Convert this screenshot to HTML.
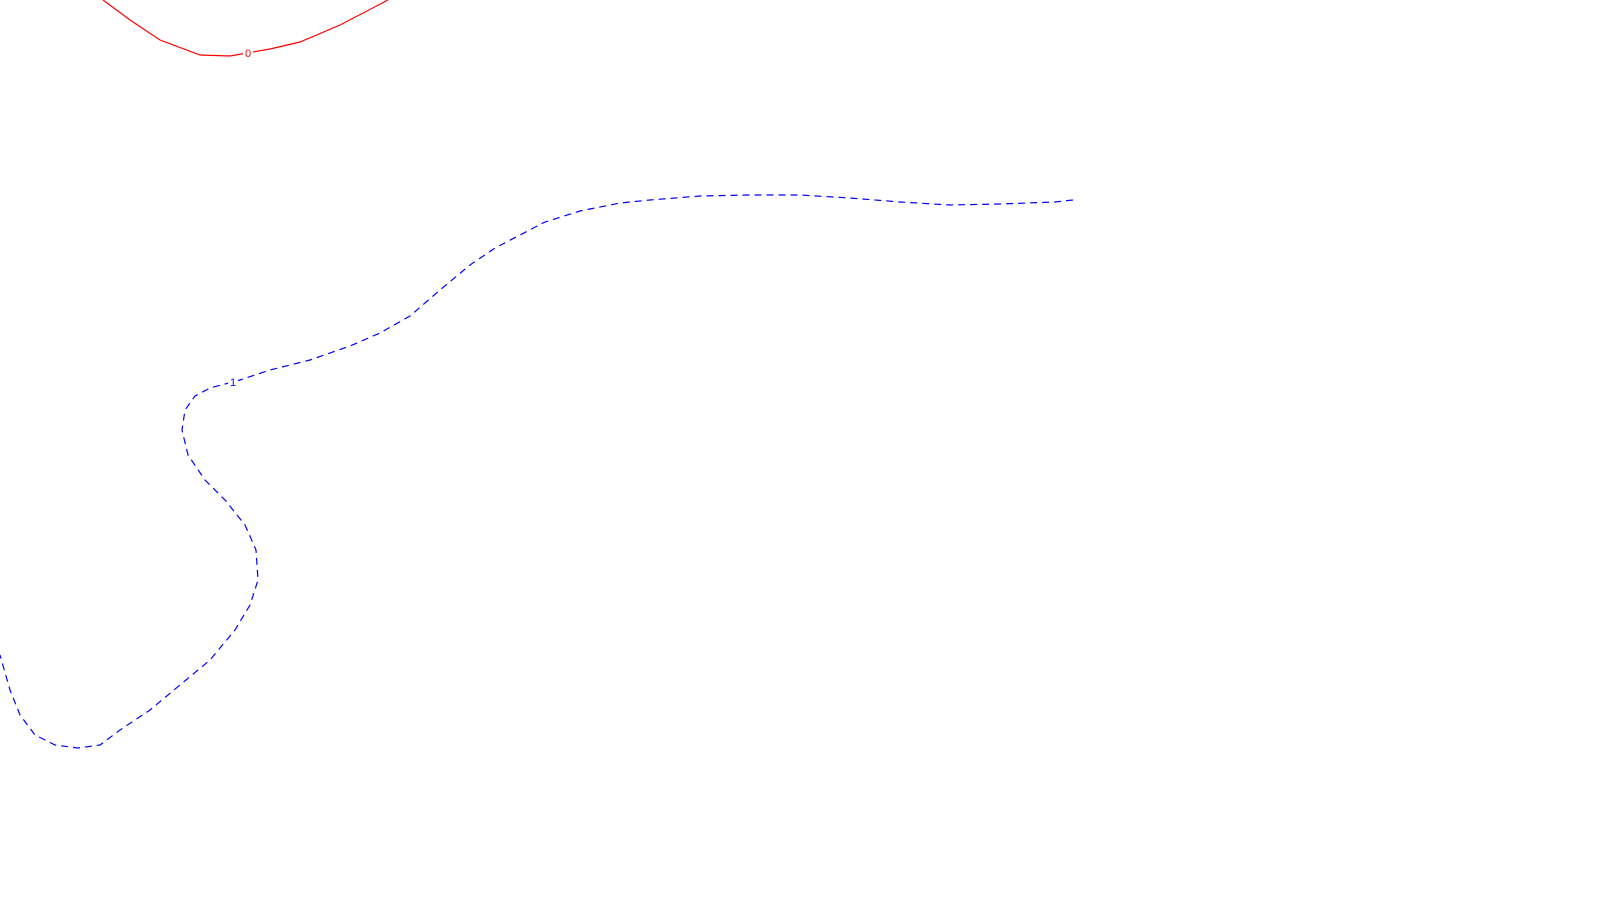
<!DOCTYPE html>
<html><head><meta charset="utf-8"><style>html,body{margin:0;background:#fff}svg{display:block}</style></head>
<body>
<svg id="chart" width="1600" height="900" viewBox="0 0 1600 900" xmlns="http://www.w3.org/2000/svg"></svg>
<script>
const level0X=[103,130,160,200,230,270,300,340,388];
const level0Y=[0,20,40,55,56,49,42,25,0];
const level1X=[1073,1055,1000,950,900,850,800,750,700,650,620,580,545,520,495,470,440,410,380,350,310,270,240,210,195,185,182,188,205,225,245,256,258,250,235,210,180,150,120,100,78,55,35,20,10,0];
const level1Y=[200,202,204,205,202,198,195,195,196,200,203,211,222,235,248,265,290,316,333,346,360,370,380,388,396,410,430,455,480,500,525,550,580,605,630,660,685,710,730,745,748,745,735,715,690,655];
const levelLabels=["0","1"];
const labelPos=[[248,53],[233,382]];
const sx=v=>v*1600/1600, sy=v=>v*900/900;
const svg=document.getElementById('chart');
const NS='http://www.w3.org/2000/svg';
function line(xs,ys){let d='';for(let i=0;i<xs.length;i++){d+=(i?'L':'M')+sx(xs[i])+' '+sy(ys[i]);}return d;}
const p0=document.createElementNS(NS,'path');


p0.setAttribute('d',line(level0X,level0Y));p0.setAttribute('fill','none');p0.setAttribute('stroke','#ff0000');p0.setAttribute('stroke-width','1.2');
svg.appendChild(p0);
const p1=document.createElementNS(NS,'path');


p1.setAttribute('d',line(level1X,level1Y));p1.setAttribute('fill','none');p1.setAttribute('stroke','#0000ff');p1.setAttribute('stroke-width','1.2');p1.setAttribute('stroke-dasharray','7 5');
svg.appendChild(p1);
const cols=['#ff0000','#0000ff'];
for(let i=0;i<2;i++){
 const bg=document.createElementNS(NS,'rect');
 
 
 bg.setAttribute('x',sx(labelPos[i][0])-5);bg.setAttribute('y',sy(labelPos[i][1])-7);bg.setAttribute('width',10);bg.setAttribute('height',13);bg.setAttribute('fill','#fff');
 svg.appendChild(bg);
 const t=document.createElementNS(NS,'text');
 
 
 t.setAttribute('x',sx(labelPos[i][0]));t.setAttribute('y',sy(labelPos[i][1])+4);
 t.setAttribute('text-anchor','middle');t.setAttribute('font-family','Liberation Sans, sans-serif');t.setAttribute('font-size','11');t.setAttribute('fill',cols[i]);
 t.textContent=levelLabels[i];
 svg.appendChild(t);
}
</script>
</body></html>
